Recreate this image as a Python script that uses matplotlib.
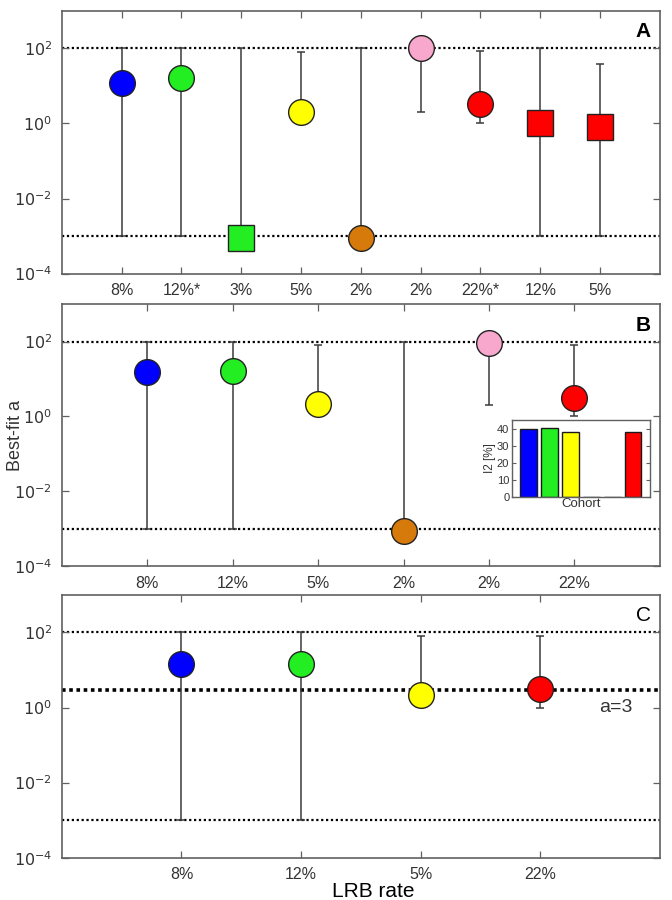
import matplotlib
matplotlib.use("Agg")
import matplotlib.pyplot as plt
import numpy as np
from matplotlib.ticker import FixedLocator, NullLocator

FONT = ['Liberation Sans Narrow', 'Liberation Sans', 'DejaVu Sans']
plt.rcParams['font.family'] = FONT
plt.rcParams['mathtext.fontset'] = 'custom'
plt.rcParams['mathtext.rm'] = 'Liberation Sans Narrow'
plt.rcParams['mathtext.it'] = 'Liberation Sans Narrow'

# ---------------- data ----------------
# Panel A
a_labels = ['8%', '12%*', '3%', '5%', '2%', '2%', '22%*', '12%', '5%']
a_values = [12, 16, 9e-4, 2.0, 9e-4, 105, 3.2, 1.0, 0.78]
a_lower = [1e-3, 1e-3, 9e-4, 2.0, 9e-4, 2.0, 1.0, 1e-3, 1e-3]
a_upper = [100, 100, 100, 80, 100, 100, 85, 100, 38]
a_colors = ['#0000FF', '#22EE22', '#22EE22', '#FFFF00', '#D67A0C', '#F7A8CC', '#FF0000', '#FF0000', '#FF0000']
a_markers = ['o', 'o', 's', 'o', 'o', 'o', 'o', 's', 's']

# Panel B
b_labels = ['8%', '12%', '5%', '2%', '2%', '22%']
b_values = [15, 16, 2.1, 8.5e-4, 92, 3.1]
b_lower = [1e-3, 1e-3, 2.1, 8.5e-4, 2.0, 1.0]
b_upper = [100, 100, 80, 100, 100, 82]
b_colors = ['#0000FF', '#22EE22', '#FFFF00', '#D67A0C', '#F7A8CC', '#FF0000']

# Inset (I2 per cohort)
i2_values = [40, 40.5, 38, 0, 0, 38]
i2_colors = ['#0000FF', '#22EE22', '#FFFF00', '#FF0000', '#FF0000', '#FF0000']

# Panel C
c_labels = ['8%', '12%', '5%', '22%']
c_values = [14, 14, 2.1, 3.1]
c_lower = [1e-3, 1e-3, 2.1, 1.0]
c_upper = [100, 100, 80, 82]
c_colors = ['#0000FF', '#22EE22', '#FFFF00', '#FF0000']

bounds = [1e-3, 100]
a_ref = 3

# ---------------- figure ----------------
fig = plt.figure(figsize=(6.72, 9.0), dpi=100)
axA = fig.add_axes([0.092, 0.696, 0.890, 0.292])
axB = fig.add_axes([0.092, 0.371, 0.890, 0.291])
axC = fig.add_axes([0.092, 0.047, 0.890, 0.292])

spine_col = '#606060'
tick_col = '#333333'


def style(ax, labels):
    n = len(labels)
    ax.set_yscale('log')
    ax.set_ylim(1e-4, 1e3)
    ax.set_xlim(0, n + 1)
    ax.yaxis.set_major_locator(FixedLocator([1e-4, 1e-2, 1e0, 1e2]))
    ax.yaxis.set_minor_locator(NullLocator())
    ax.set_yticklabels([r'$10^{-4}$', r'$10^{-2}$', r'$10^{0}$', r'$10^{2}$'])
    ax.set_xticks(np.arange(1, n + 1))
    ax.set_xticklabels(labels)
    ax.tick_params(axis='both', direction='in', length=5, width=0.9,
                   top=True, right=True, color=spine_col,
                   labelsize=11.5, labelcolor=tick_col, pad=7)
    for s in ax.spines.values():
        s.set_color(spine_col)
        s.set_linewidth(1.2)
    for b in bounds:
        ax.axhline(b, color='black', ls=(0, (1, 1.2)), lw=1.6, zorder=1)


def draw(ax, values, lower, upper, colors, markers=None):
    x = np.arange(1, len(values) + 1)
    v = np.array(values, dtype=float)
    lo = np.clip(v - np.array(lower, dtype=float), 0, None)
    hi = np.clip(np.array(upper, dtype=float) - v, 0, None)
    ax.errorbar(x, v, yerr=np.vstack([lo, hi]), fmt='none', ecolor='#3a3a3a',
                elinewidth=1.1, capsize=3, capthick=1.1, zorder=2)
    for i in range(len(values)):
        m = markers[i] if markers else 'o'
        ms = 19 if m == 's' else 18.5
        ax.plot(x[i], v[i], marker=m, ms=ms, mfc=colors[i], mec='#222222',
                mew=1.0, ls='none', zorder=3)


style(axA, a_labels)
draw(axA, a_values, a_lower, a_upper, a_colors, a_markers)
axA.text(0.985, 0.92, 'A', transform=axA.transAxes, ha='right', va='center',
         fontsize=15, fontweight='bold', family=['Liberation Sans', 'DejaVu Sans'])

style(axB, b_labels)
draw(axB, b_values, b_lower, b_upper, b_colors)
axB.text(0.985, 0.92, 'B', transform=axB.transAxes, ha='right', va='center',
         fontsize=15, fontweight='bold', family=['Liberation Sans', 'DejaVu Sans'])
axB.set_ylabel('Best-fit a', fontsize=13, color=tick_col)
axB.yaxis.set_label_coords(-0.064, 0.5)

style(axC, c_labels)
draw(axC, c_values, c_lower, c_upper, c_colors)
axC.axhline(a_ref, color='black', ls=(0, (1, 1)), lw=2.6, zorder=1)
axC.text(0.926, 0.57, 'a=3', transform=axC.transAxes, ha='center', va='center',
         fontsize=14, color=tick_col)
axC.text(0.985, 0.92, 'C', transform=axC.transAxes, ha='right', va='center',
         fontsize=15, color='black', family=['Liberation Sans', 'DejaVu Sans'])
axC.set_xlabel('LRB rate', fontsize=15, color='black')
axC.xaxis.set_label_coords(0.52, -0.092)

# Inset
axI = fig.add_axes([0.762, 0.448, 0.205, 0.085])
xi = np.arange(1, len(i2_values) + 1)
axI.bar(xi, i2_values, width=0.8, color=i2_colors, edgecolor='#1a1a1a', linewidth=1.0)
axI.set_xlim(0.2, 6.8)
axI.set_ylim(0, 45)
axI.set_yticks([0, 10, 20, 30, 40])
axI.set_xticks([])
axI.tick_params(axis='y', direction='in', length=3, right=True, labelsize=8,
                labelcolor=tick_col, color=spine_col, pad=2)
for s in axI.spines.values():
    s.set_color(spine_col)
    s.set_linewidth(1.0)
axI.set_ylabel('I2 [%]', fontsize=8.5, color=tick_col, labelpad=1)
axI.set_xlabel('Cohort', fontsize=9.5, color=tick_col, labelpad=1)

fig.savefig('out.png', dpi=100)
